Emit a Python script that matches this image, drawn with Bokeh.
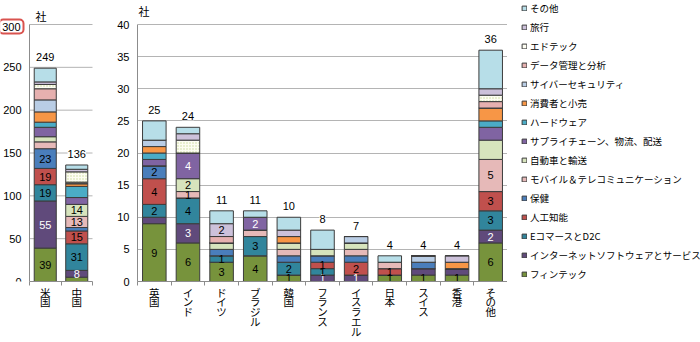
from bokeh.plotting import figure
from bokeh.layouts import row
from bokeh.models import ColumnDataSource, Range1d, FixedTicker, Label, Legend, LegendItem
from bokeh.embed import file_html
from bokeh.resources import INLINE
from bokeh.core.properties import value

# ---------------- data ----------------
countries = ["米国", "中国", "英国", "インド", "ドイツ", "ブラジル", "韓国",
             "フランス", "イスラエル", "日本", "スイス", "香港", "その他"]
left_countries = countries[:2]
right_countries = countries[2:]

sectors = ["フィンテック", "インターネットソフトウェアとサービス", "EコマースとD2C",
           "人工知能", "保健", "モバイル＆テレコミュニケーション", "自動車と輸送",
           "サプライチェーン、物流、配送", "ハードウェア", "消費者と小売",
           "サイバーセキュリティ", "データ管理と分析", "エドテック", "旅行", "その他"]

# companies per sector, in country order above
fintech   = [39, 5, 9, 6, 3, 4, 1, 0, 0, 1, 1, 1, 6]
internet  = [55, 8, 1, 3, 0, 0, 0, 1, 1, 0, 1, 1, 2]
ecommerce = [19, 31, 2, 4, 1, 3, 2, 1, 0, 0, 0, 0, 3]
ai        = [19, 15, 4, 0, 0, 0, 0, 1, 2, 1, 0, 0, 3]
health    = [23, 4, 2, 0, 1, 0, 1, 1, 1, 0, 1, 0, 0]
mobile    = [8, 13, 0, 1, 0, 1, 1, 0, 1, 1, 0, 0, 5]
auto      = [6, 14, 0, 2, 1, 0, 1, 1, 1, 0, 0, 0, 3]
supply    = [11, 8, 1, 4, 0, 2, 0, 0, 0, 0, 0, 0, 2]
hardware  = [6, 13, 1, 0, 0, 0, 0, 0, 0, 0, 0, 0, 1]
consumer  = [12, 3, 1, 0, 0, 0, 1, 0, 0, 0, 0, 1, 2]
cyber     = [14, 1, 1, 0, 0, 0, 0, 0, 1, 0, 1, 0, 0]
datamgmt  = [13, 1, 0, 0, 1, 0, 0, 0, 0, 0, 0, 0, 1]
edtech    = [5, 12, 0, 2, 0, 0, 0, 0, 0, 0, 0, 0, 1]
travel    = [3, 3, 0, 1, 2, 0, 1, 0, 0, 0, 0, 1, 1]
other     = [16, 5, 3, 1, 2, 1, 2, 3, 0, 1, 0, 0, 6]

series = [fintech, internet, ecommerce, ai, health, mobile, auto, supply,
          hardware, consumer, cyber, datamgmt, edtech, travel, other]

colors = ["#77933C", "#604A7B", "#31859C", "#C0504D", "#4A7EBB", "#E6B9B8",
          "#D7E4BD", "#8064A2", "#4BACC6", "#F79646", "#B9CDE5", "#E6B0AF",
          "#FDFDF2", "#CCC1DA", "#B7DEE8"]

left_ticks = [0, 50, 100, 150, 200, 250, 300]
right_ticks = [0, 5, 10, 15, 20, 25, 30, 35, 40]

# segments that carry a value label (sector -> countries)
shown_labels = {
    "フィンテック": ["米国", "英国", "インド", "ドイツ", "ブラジル", "韓国", "日本", "スイス", "香港", "その他"],
    "インターネットソフトウェアとサービス": ["米国", "中国", "インド", "フランス", "イスラエル", "その他"],
    "EコマースとD2C": ["米国", "中国", "英国", "インド", "ドイツ", "ブラジル", "韓国", "フランス", "その他"],
    "人工知能": ["米国", "中国", "英国", "フランス", "イスラエル", "日本", "その他"],
    "保健": ["米国", "英国"],
    "モバイル＆テレコミュニケーション": ["中国", "インド", "その他"],
    "自動車と輸送": ["中国", "インド"],
    "サプライチェーン、物流、配送": ["インド", "ブラジル"],
    "旅行": ["ドイツ"],
}
white_text_sectors = ["インターネットソフトウェアとサービス", "サプライチェーン、物流、配送"]

# ---------------- style / layout ----------------
JP = "Noto Sans CJK JP"
NUM = "Liberation Sans"
AXIS_C = "#8c8c8c"
GRID_C = "#b4b4b4"
EDGE_C = "#3c3c3c"
H = 342
BOTTOM = 61          # room under the plot frame for the country names
TOP_TICK_PX = 24     # pixel row of the top tick, counted from the top


def y_range_for(top_value):
    px_per_unit = (H - BOTTOM - TOP_TICK_PX) / top_value
    return Range1d(0, top_value + TOP_TICK_PX / px_per_unit)


def build(p, cats, y_ticks, own_grid=False):
    idx = [countries.index(c) for c in cats]
    n = len(cats)
    if own_grid:
        p.segment(x0=-0.5, x1=n - 0.5, y0=y_ticks[1:], y1=y_ticks[1:],
                  line_color=GRID_C, line_width=1)
    data = {"x": list(range(n))}
    keys = []
    for k, vals in enumerate(series):
        key = "s%d" % k
        keys.append(key)
        data[key] = [vals[i] for i in idx]
    src = ColumnDataSource(data)
    rs = p.vbar_stack(keys, x="x", width=0.7, source=src, fill_color=colors,
                      line_color=EDGE_C, line_width=1)
    rs[12].glyph.hatch_pattern = "dot"
    rs[12].glyph.hatch_color = "#c8d89a"
    rs[12].glyph.hatch_scale = 3

    # segment labels
    lx, ly, lt, lc = [], [], [], []
    for j, i in enumerate(idx):
        base = 0
        for k, vals in enumerate(series):
            v = vals[i]
            if v > 0 and countries[i] in shown_labels.get(sectors[k], []):
                lx.append(j)
                ly.append(base + v / 2)
                lt.append(str(v))
                lc.append("white" if sectors[k] in white_text_sectors else "black")
            base += v
    p.text(x="x", y="y", text="t", text_color="c",
           source=ColumnDataSource(dict(x=lx, y=ly, t=lt, c=lc)),
           text_align="center", text_baseline="middle",
           text_font=value(NUM), text_font_size="11px")

    totals = [sum(vals[i] for vals in series) for i in idx]
    p.text(x=list(range(n)), y=totals, text=[str(t) for t in totals],
           text_align="center", text_baseline="middle", y_offset=-11,
           text_font=value(NUM), text_font_size="11px", text_color="black",
           background_fill_color="white")

    p.xaxis.ticker = FixedTicker(ticks=list(range(n)),
                                 minor_ticks=[i - 0.5 for i in range(n + 1)])
    p.xaxis.bounds = (-0.5, n - 0.5)
    p.xaxis.major_label_overrides = {i: "\n".join(c) for i, c in enumerate(cats)}
    p.xaxis.major_tick_line_color = None
    p.xaxis.major_tick_out = 0
    p.xaxis.minor_tick_out = 4
    p.xaxis.minor_tick_in = 0
    p.xaxis.minor_tick_line_color = AXIS_C
    p.xaxis.axis_line_color = AXIS_C
    p.xaxis.major_label_standoff = -1
    p.xaxis.major_label_text_font = JP
    p.xaxis.major_label_text_font_size = "10.5px"
    p.xaxis.major_label_text_line_height = 0.66
    p.xaxis.major_label_text_color = "black"

    p.yaxis.ticker = FixedTicker(ticks=y_ticks)
    p.yaxis.bounds = (y_ticks[0], y_ticks[-1])
    p.yaxis.major_tick_line_color = None
    p.yaxis.minor_tick_line_color = None
    p.yaxis.major_tick_out = 0
    p.yaxis.axis_line_color = AXIS_C
    p.yaxis.major_label_standoff = 8
    p.yaxis.major_label_text_font = NUM
    p.yaxis.major_label_text_font_size = "11px"
    p.yaxis.major_label_text_color = "black"

    p.xgrid.visible = False
    if own_grid:
        p.ygrid.visible = False
    else:
        p.ygrid.ticker = FixedTicker(ticks=y_ticks[1:])
        p.ygrid.grid_line_color = GRID_C
    p.outline_line_color = None
    return src, keys


common = dict(height=H, output_backend="svg", toolbar_location=None,
              min_border_top=0, min_border_bottom=BOTTOM)

# ---- left chart (US, China): frame spans the whole width, axis fixed at the first bar gap ----
L_W, L_AX, L_END = 107, 29, 92
unit = (L_END - L_AX) / len(left_countries)
p1 = figure(width=L_W,
            x_range=Range1d(-0.5 - L_AX / unit, len(left_countries) - 0.5 + (L_W - L_END) / unit),
            y_range=y_range_for(left_ticks[-1]),
            min_border_left=0, min_border_right=0, **common)
src1, keys1 = build(p1, left_countries, left_ticks, own_grid=True)
p1.yaxis.fixed_location = -0.5
p1.yaxis.major_label_overrides = {300: ""}
p1.add_layout(Label(x=-0.5, y=left_ticks[-1], x_offset=-6, y_offset=-2, text="300",
                    text_align="right", text_baseline="middle",
                    text_font=NUM, text_font_size="11px", text_color="black",
                    border_line_color="#d9534f", border_line_width=2,
                    border_radius=4, padding=3))
p1.add_layout(Label(x=-0.5, y=left_ticks[-1], x_offset=6, y_offset=9,
                    text="社", text_baseline="middle", text_font=JP,
                    text_font_size="11px", text_color="black"))

# ---- right chart (other countries) ----
p2 = figure(width=400, x_range=Range1d(-0.5, len(right_countries) - 0.5),
            y_range=y_range_for(right_ticks[-1]),
            min_border_left=30, min_border_right=0, **common)
build(p2, right_countries, right_ticks)
p2.add_layout(Label(x=-0.5, y=right_ticks[-1], x_offset=1, y_offset=14,
                    text="社", text_baseline="middle", text_font=JP,
                    text_font_size="11px", text_color="black"))

# ---- legend panel ----
p3 = figure(width=193, height=H, x_range=Range1d(0, 1), y_range=Range1d(0, 1),
            x_axis_type=None, y_axis_type=None, output_backend="svg",
            toolbar_location=None, min_border=0, min_border_left=14,
            min_border_bottom=BOTTOM)
p3.outline_line_color = None
p3.grid.visible = False
rs3 = p3.vbar_stack(keys1, x="x", width=0.7, source=src1, fill_color=colors,
                    line_color=EDGE_C, line_width=1, visible=False)
items = [LegendItem(label=sectors[k], renderers=[rs3[k]])
         for k in reversed(range(len(sectors)))]
legend = Legend(items=items, location="top_left", margin=0, padding=5,
                spacing=4, glyph_width=6, glyph_height=6, label_height=15,
                label_standoff=3, label_text_font=JP, label_text_font_size="9.5px",
                label_text_color="black",
                border_line_color=None, background_fill_alpha=0)
p3.add_layout(legend)

layout = row(p1, p2, p3)
open("out.html", "w").write(file_html(layout, INLINE))
